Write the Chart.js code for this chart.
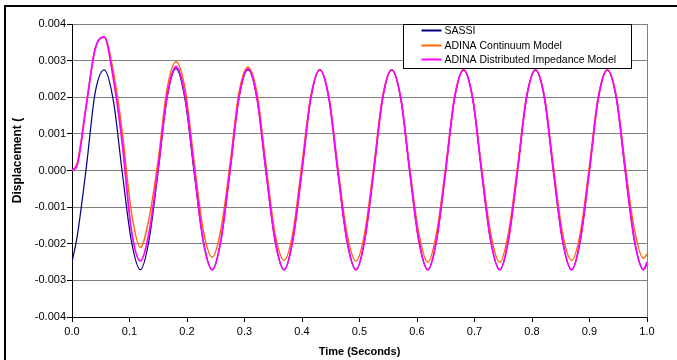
<!DOCTYPE html>
<html>
<head>
<meta charset="utf-8">
<script src="https://cdn.jsdelivr.net/npm/chart.js@4.4.0/dist/chart.umd.min.js"></script>
<style>
    html, body { margin: 0; padding: 0; background: #fff; overflow: hidden; }
    #wrap { position: relative; width: 677px; height: 360px; overflow: hidden; }
    #frame {
        position: absolute; left: 4px; top: 5px; width: 760px; height: 460px;
        border: 2px solid #000; pointer-events: none;
    }
    canvas { position: absolute; left: 0; top: 0; }
</style>
</head>
<body>
<div id="wrap">
    <canvas id="chart" width="677" height="360"></canvas>
    <div id="frame"></div>
</div>
<script>
// time samples (s)
const times = [
    0.000, 0.009, 0.025, 0.040, 0.056, 0.072, 0.087, 0.103,
    0.119, 0.134, 0.150, 0.165, 0.181, 0.197, 0.212, 0.228,
    0.244, 0.259, 0.275, 0.290, 0.306, 0.322, 0.337, 0.353,
    0.369, 0.384, 0.400, 0.415, 0.431, 0.447, 0.462, 0.478,
    0.494, 0.509, 0.525, 0.540, 0.556, 0.572, 0.587, 0.603,
    0.619, 0.634, 0.650, 0.665, 0.681, 0.697, 0.712, 0.728,
    0.744, 0.759, 0.775, 0.790, 0.806, 0.822, 0.837, 0.853,
    0.869, 0.884, 0.900, 0.915, 0.931, 0.947, 0.962, 0.978,
    0.994, 1.000
];

const sassi = [
    -0.0025, -0.0018, 0.0001, 0.0021, 0.00275, 0.0019, 0.0000, -0.0019,
    -0.00271, -0.0019, 0.0000, 0.00195, 0.00278, 0.0019, 0.0000, -0.0019,
    -0.00271, -0.0019, 0.00002, 0.00195, 0.00275, 0.00195, 0.00002, -0.0019,
    -0.00271, -0.0019, 0.00002, 0.00195, 0.00275, 0.00195, 0.00002, -0.0019,
    -0.00271, -0.0019, 0.00002, 0.00195, 0.00275, 0.00195, 0.00002, -0.0019,
    -0.00271, -0.0019, 0.00002, 0.00195, 0.00275, 0.00195, 0.00002, -0.0019,
    -0.00271, -0.0019, 0.00002, 0.00195, 0.00275, 0.00195, 0.00002, -0.0019,
    -0.00271, -0.0019, 0.00002, 0.00195, 0.00275, 0.00195, 0.00002, -0.0019,
    -0.00271, -0.00255
];

const adinaContinuum = [
    0.0000, 0.0002, 0.0018, 0.0033, 0.00364, 0.0027, 0.0011, -0.0011,
    -0.0021, -0.0013, 0.0003, 0.0022, 0.00297, 0.0022, 0.0003, -0.0016,
    -0.00237, -0.0016, 0.0002, 0.0021, 0.00283, 0.0021, 0.0002, -0.0017,
    -0.00245, -0.0017, 0.0002, 0.0020, 0.00276, 0.0020, 0.00015, -0.0017,
    -0.00247, -0.0017, 0.00014, 0.0020, 0.00275, 0.00196, 0.00012, -0.0017,
    -0.0025, -0.0017, 0.00012, 0.00196, 0.00275, 0.00196, 0.00012, -0.0017,
    -0.0025, -0.0017, 0.00012, 0.00196, 0.00275, 0.0020, 0.00015, -0.0017,
    -0.00245, -0.0017, 0.00015, 0.0020, 0.00275, 0.0020, 0.00017, -0.0016,
    -0.0024, -0.00228
];

const adinaImpedance = [
    0.0000, 0.00015, 0.0018, 0.0033, 0.00365, 0.0025, 0.0008, -0.0016,
    -0.00247, -0.0017, 0.0001, 0.0020, 0.00284, 0.0020, 0.0001, -0.0019,
    -0.00271, -0.0019, 0.00003, 0.00196, 0.00278, 0.00195, 0.00003, -0.0019,
    -0.00271, -0.0019, 0.00002, 0.00195, 0.00275, 0.00195, 0.00002, -0.0019,
    -0.00271, -0.0019, 0.00002, 0.00195, 0.00275, 0.00195, 0.00002, -0.0019,
    -0.00271, -0.0019, 0.00002, 0.00195, 0.00275, 0.00195, 0.00002, -0.0019,
    -0.00271, -0.0019, 0.00002, 0.00195, 0.00275, 0.00195, 0.00002, -0.0019,
    -0.00271, -0.0019, 0.00002, 0.00195, 0.00275, 0.00195, 0.00002, -0.0019,
    -0.00271, -0.0025
];

const seriesNames = ['SASSI', 'ADINA Continuum Model', 'ADINA Distributed Impedance Model'];
const seriesColors = ['#000080', '#FF6600', '#FF00FF'];

const FONT = "'Liberation Sans', Arial, sans-serif";

function toPoints(values) {
    return times.map((t, i) => ({ x: t, y: values[i] }));
}

function makeDataset(label, values, color, width, order) {
    return {
        label,
        data: toPoints(values),
        borderColor: color,
        backgroundColor: 'transparent',
        borderWidth: width,
        pointRadius: 0,
        cubicInterpolationMode: 'monotone',
        order
    };
}

// legend box inside the plot + gray right edge of the plot area
const boxLegend = {
    id: 'boxLegend',
    beforeDatasetsDraw(chart) {
        const { ctx, chartArea: a } = chart;
        ctx.save();
        ctx.strokeStyle = '#808080';
        ctx.lineWidth = 1;
        ctx.beginPath();
        ctx.moveTo(Math.round(a.right) + 0.5, a.top);
        ctx.lineTo(Math.round(a.right) + 0.5, a.bottom);
        ctx.stroke();
        ctx.restore();
    },
    afterDraw(chart) {
        const { ctx, chartArea: a } = chart;
        const x = a.left + 331.5, y = a.top + 0.5, w = 228, h = 44;
        ctx.save();
        ctx.fillStyle = '#fff';
        ctx.fillRect(x, y, w, h);
        ctx.strokeStyle = '#000';
        ctx.lineWidth = 1;
        ctx.strokeRect(x, y, w, h);
        ctx.font = '10.5px ' + FONT;
        ctx.textBaseline = 'middle';
        const rows = [6, 21, 35];
        chart.data.datasets.forEach((ds, i) => {
            const ry = y + rows[i];
            ctx.strokeStyle = ds.borderColor;
            ctx.lineWidth = 2;
            ctx.beginPath();
            ctx.moveTo(x + 18, ry);
            ctx.lineTo(x + 38, ry);
            ctx.stroke();
            ctx.fillStyle = '#000';
            ctx.fillText(ds.label, x + 41, ry + 0.5);
        });
        ctx.restore();
    }
};

new Chart(document.getElementById('chart').getContext('2d'), {
    type: 'line',
    data: {
        datasets: [
            makeDataset(seriesNames[0], sassi, seriesColors[0], 1.2, 3),
            makeDataset(seriesNames[1], adinaContinuum, seriesColors[1], 1.4, 2),
            makeDataset(seriesNames[2], adinaImpedance, seriesColors[2], 1.8, 1)
        ]
    },
    options: {
        responsive: false,
        animation: false,
        devicePixelRatio: 1,
        layout: { padding: { left: 0, top: 24, right: 30, bottom: 0 } },
        plugins: {
            legend: { display: false },
            tooltip: { enabled: false }
        },
        scales: {
            x: {
                type: 'linear',
                min: 0,
                max: 1,
                afterFit: (s) => { s.height = 43; },
                ticks: {
                    stepSize: 0.1,
                    color: '#000',
                    padding: 3,
                    maxRotation: 0,
                    font: { family: FONT, size: 11 },
                    callback: (v) => v.toFixed(1)
                },
                grid: {
                    drawOnChartArea: false,
                    tickLength: 5,
                    tickColor: '#000'
                },
                border: { color: '#000', width: 1 },
                title: {
                    display: true,
                    text: 'Time (Seconds)',
                    color: '#000',
                    font: { family: FONT, size: 11, weight: 'bold' },
                    padding: { top: 0, bottom: 1.5 }
                }
            },
            y: {
                min: -0.004,
                max: 0.004,
                afterFit: (s) => { s.width = 72; },
                ticks: {
                    stepSize: 0.001,
                    color: '#000',
                    padding: 1,
                    font: { family: FONT, size: 11 },
                    callback: (v) => (Math.abs(v) < 1e-9 ? 0 : v).toFixed(3)
                },
                grid: {
                    color: '#808080',
                    lineWidth: 1,
                    tickLength: 5,
                    tickColor: '#000'
                },
                border: { color: '#000', width: 1 },
                title: {
                    display: true,
                    text: '\u00a0\u00a0\u00a0\u00a0\u00a0\u00a0Displacement (',
                    color: '#000',
                    font: { family: FONT, size: 12, weight: 'bold' },
                    padding: { top: 10, bottom: 0 }
                }
            }
        }
    },
    plugins: [boxLegend]
});
</script>
</body>
</html>
